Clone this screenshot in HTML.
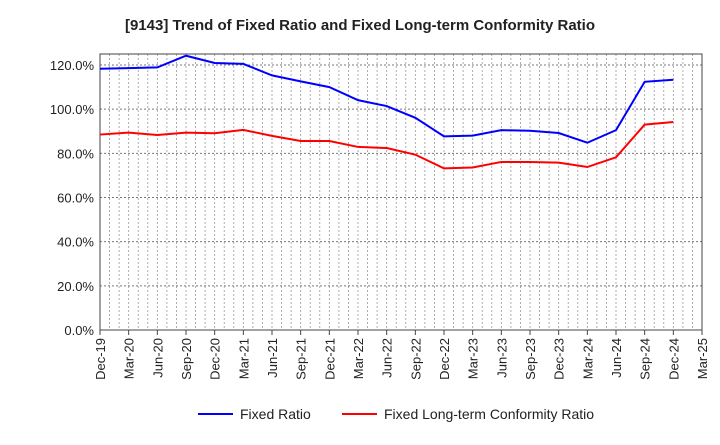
<!DOCTYPE html>
<html><head><meta charset="utf-8"><style>
body{margin:0;background:#fff;font-family:"Liberation Sans",sans-serif}
</style></head><body>
<svg id="c" width="720" height="440" xmlns="http://www.w3.org/2000/svg">
<text x="360" y="30" text-anchor="middle" font-size="15" font-weight="bold" fill="#222">[9143]  Trend of Fixed Ratio and Fixed Long-term Conformity Ratio</text>
<g id="grid"></g><g id="axes"></g><g id="series"></g>
<g>
<line x1="198" y1="414" x2="233" y2="414" stroke="#0000ff" stroke-width="2"/>
<text x="240" y="419" font-size="14" fill="#222">Fixed Ratio</text>
<line x1="342" y1="414" x2="377" y2="414" stroke="#ff0000" stroke-width="2"/>
<text x="384" y="419" font-size="14" fill="#222">Fixed Long-term Conformity Ratio</text>
</g>
</svg>
<script>
const xLabels=["Dec-19","Mar-20","Jun-20","Sep-20","Dec-20","Mar-21","Jun-21","Sep-21","Dec-21","Mar-22","Jun-22","Sep-22","Dec-22","Mar-23","Jun-23","Sep-23","Dec-23","Mar-24","Jun-24","Sep-24","Dec-24","Mar-25"];
const yTicks=[0,20,40,60,80,100,120];
const fixedRatio=[118.3,118.6,118.9,124.2,120.9,120.5,115.3,112.6,110,104.1,101.4,96.1,87.7,88,90.5,90.2,89.2,84.8,90.5,112.4,113.3];
const conformityRatio=[88.5,89.4,88.3,89.4,89.1,90.6,87.9,85.6,85.6,82.9,82.4,79.4,73.2,73.6,76.1,76.1,75.8,73.8,78.2,93,94.2];
const L=100,R=702,T=54,B=330;
const xs=i=>L+(R-L)*i/(xLabels.length-1);
const ys=v=>B-(v/120)*(B-65);
const NS="http://www.w3.org/2000/svg";
function mk(t,a,p){const e=document.createElementNS(NS,t);for(const k in a)e.setAttribute(k,a[k]);p.appendChild(e);return e;}
const g=document.getElementById('grid'),ax=document.getElementById('axes'),s=document.getElementById('series');
for(let m=1;m<(xLabels.length-1)*3;m++){const x=L+(R-L)*m/((xLabels.length-1)*3);
const l=mk('line',{x1:x,x2:x,y1:T,y2:B,stroke:'#999','stroke-dasharray':'2,2','stroke-width':0.8},g);

}
yTicks.forEach(v=>{const y=ys(v);
if(v>0){const l=mk('line',{x1:L,x2:R,y1:y,y2:y,stroke:'#777','stroke-dasharray':'2,2','stroke-width':1},g);

}
const t=mk('text',{x:L-6,y:y+5,'text-anchor':'end','font-size':13,fill:'#222'},ax);t.textContent=v.toFixed(1)+'%';

});
const fr=mk('rect',{x:L,y:T,width:R-L,height:B-T,fill:'none',stroke:'#444','stroke-width':1},ax);


xLabels.forEach((lb,i)=>{const x=xs(i);
const tk=mk('line',{x1:x,x2:x,y1:B,y2:B+5,stroke:'#444'},ax);


const t=mk('text',{x:x+5,y:B+8,'text-anchor':'end','font-size':13,fill:'#222',transform:`rotate(-90 ${x+5} ${B+8})`},ax);t.textContent=lb;

});
function line(d,c,n){const p=mk('polyline',{points:d.map((v,i)=>xs(i)+','+ys(v)).join(' '),fill:'none',stroke:c,'stroke-width':2},s);

}
line(fixedRatio,'#0000ff','fixed-ratio-line');
line(conformityRatio,'#ff0000','conformity-ratio-line');
</script>
</body></html>
